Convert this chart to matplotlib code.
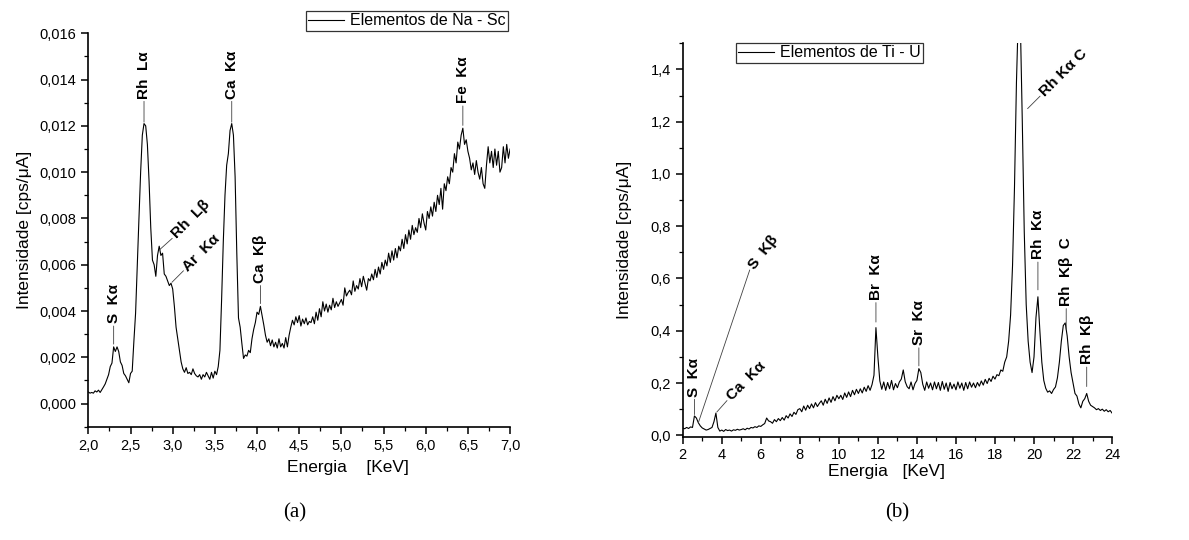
import numpy as np
import matplotlib
matplotlib.use("Agg")
import matplotlib.pyplot as plt
from matplotlib.ticker import MultipleLocator, FuncFormatter

plt.rcParams['font.family'] = ['Liberation Sans', 'DejaVu Sans']

# ---- (a) Na - Sc spectrum, energy channels every 0.02 keV, intensity in 1e-3 cps/uA
energy_a = np.round(np.arange(200, 701, 2) / 100, 2)
intensity_a_milli = [
    0.50, 0.45, 0.48, 0.45, 0.55, 0.50, 0.58, 0.48, 0.60, 0.72,   # 2.00
    0.85, 1.05, 1.25, 1.60, 1.75, 2.45, 2.25, 2.45, 2.25, 1.80,   # 2.20
    1.65, 1.30, 1.20, 1.05, 0.90, 1.30, 1.40, 2.70, 3.90, 6.00,   # 2.40
    8.00, 10.00, 11.60, 12.10, 12.00, 11.20, 9.60, 7.60, 6.20, 6.00,  # 2.60
    5.50, 6.40, 6.80, 6.40, 6.50, 5.60, 5.50, 5.30, 5.10, 5.20,   # 2.80
    4.95, 4.20, 3.30, 2.80, 2.30, 1.80, 1.50, 1.35, 1.55, 1.30,   # 3.00
    1.35, 1.25, 1.50, 1.30, 1.20, 1.15, 1.25, 1.05, 1.25, 1.15,   # 3.20
    1.35, 1.20, 1.05, 1.35, 1.10, 1.40, 1.25, 1.60, 2.30, 4.50,   # 3.40
    7.00, 9.00, 10.30, 10.80, 11.80, 12.10, 11.60, 9.80, 6.50, 3.70,  # 3.60
    3.30, 2.60, 1.95, 2.10, 2.05, 2.30, 2.20, 2.80, 3.20, 3.50,   # 3.80
    3.95, 3.85, 4.20, 3.80, 3.40, 2.95, 2.65, 2.80, 2.50, 2.75,   # 4.00
    2.45, 2.65, 2.40, 2.80, 2.45, 2.60, 2.40, 2.85, 2.45, 2.95,   # 4.20
    3.30, 3.60, 3.40, 3.75, 3.50, 3.80, 3.35, 3.65, 3.45, 3.70,   # 4.40
    3.40, 3.55, 3.50, 3.75, 3.45, 3.95, 3.60, 4.10, 3.75, 4.40,   # 4.60
    4.00, 4.30, 3.95, 4.25, 4.05, 4.55, 4.15, 4.40, 4.20, 4.35,   # 4.80
    4.50, 4.25, 5.00, 4.65, 4.80, 4.90, 4.70, 5.30, 4.85, 5.10,   # 5.00
    4.95, 5.40, 5.05, 5.50, 5.20, 4.90, 5.40, 5.30, 5.60, 5.35,   # 5.20
    5.80, 5.45, 5.90, 5.60, 6.10, 5.80, 6.20, 5.95, 6.50, 6.10,   # 5.40
    6.60, 6.20, 6.70, 6.30, 6.80, 6.60, 7.10, 6.70, 7.30, 6.90,   # 5.60
    7.50, 7.10, 7.70, 7.30, 7.60, 7.40, 8.00, 7.60, 8.20, 7.80,   # 5.80
    7.50, 8.30, 8.00, 8.50, 8.10, 8.70, 8.30, 9.00, 8.60, 9.30,   # 6.00
    8.40, 9.50, 9.20, 9.80, 9.50, 10.20, 10.00, 10.80, 10.40, 11.30,  # 6.20
    11.00, 11.60, 11.90, 11.20, 11.40, 10.90, 10.60, 10.10, 10.40, 9.90,  # 6.40
    10.50, 10.00, 9.70, 10.20, 9.50, 9.30, 10.30, 11.10, 10.40, 10.90,  # 6.60
    10.20, 11.00, 10.30, 10.90, 10.00, 10.20, 11.10, 10.40, 11.20, 10.60,  # 6.80
    11.00,                                                           # 7.00
]
intensity_a = np.array(intensity_a_milli) * 1e-3

# ---- (b) Ti - U spectrum, energy channels every 0.1 keV
energy_b = np.arange(20, 241) / 10
intensity_b = [
    0.028, 0.025, 0.030, 0.026, 0.032, 0.030, 0.074, 0.066, 0.048, 0.036,  # 2
    0.028, 0.024, 0.020, 0.022, 0.026, 0.030, 0.052, 0.085, 0.030, 0.016,  # 3
    0.020, 0.015, 0.022, 0.018, 0.020, 0.016, 0.021, 0.019, 0.023, 0.020,  # 4
    0.022, 0.025, 0.021, 0.027, 0.024, 0.030, 0.028, 0.033, 0.030, 0.036,  # 5
    0.034, 0.040, 0.045, 0.066, 0.055, 0.052, 0.046, 0.060, 0.052, 0.064,  # 6
    0.056, 0.068, 0.058, 0.075, 0.066, 0.082, 0.072, 0.088, 0.080, 0.098,  # 7
    0.102, 0.090, 0.112, 0.096, 0.115, 0.102, 0.120, 0.105, 0.125, 0.110,  # 8
    0.122, 0.132, 0.115, 0.138, 0.122, 0.143, 0.126, 0.148, 0.132, 0.153,  # 9
    0.140, 0.153, 0.137, 0.162, 0.145, 0.166, 0.148, 0.172, 0.155, 0.176,  # 10
    0.160, 0.178, 0.162, 0.184, 0.168, 0.190, 0.172, 0.194, 0.230, 0.412,  # 11
    0.300, 0.208, 0.176, 0.204, 0.172, 0.202, 0.178, 0.210, 0.174, 0.198,  # 12
    0.182, 0.204, 0.215, 0.250, 0.205, 0.186, 0.178, 0.204, 0.174, 0.198,  # 13
    0.210, 0.255, 0.240, 0.195, 0.172, 0.204, 0.180, 0.200, 0.174, 0.204,  # 14
    0.178, 0.202, 0.172, 0.206, 0.176, 0.200, 0.168, 0.202, 0.178, 0.196,  # 15
    0.174, 0.204, 0.180, 0.200, 0.172, 0.202, 0.178, 0.204, 0.184, 0.200,  # 16
    0.182, 0.202, 0.188, 0.208, 0.192, 0.214, 0.198, 0.218, 0.206, 0.226,  # 17
    0.215, 0.232, 0.228, 0.250, 0.245, 0.280, 0.300, 0.360, 0.460, 0.650,  # 18
    0.950, 1.350, 1.620, 1.580, 1.200, 0.780, 0.500, 0.360, 0.280, 0.240,  # 19
    0.300, 0.450, 0.530, 0.400, 0.280, 0.210, 0.180, 0.165, 0.170, 0.160,  # 20
    0.175, 0.185, 0.220, 0.280, 0.360, 0.420, 0.430, 0.380, 0.300, 0.240,  # 21
    0.200, 0.160, 0.150, 0.120, 0.105, 0.130, 0.140, 0.160, 0.130, 0.115,  # 22
    0.110, 0.105, 0.098, 0.102, 0.095, 0.100, 0.092, 0.098, 0.090, 0.095,  # 23
    0.085,                                                                  # 24
]

# peak labels: (text, energy)
peaks_a = [("S  Kα", 2.30), ("Rh  Lα", 2.66), ("Ca  Kα", 3.70), ("Fe  Kα", 6.44),
           ("Ca  Kβ", 4.04), ("Rh  Lβ", 2.83), ("Ar  Kα", 2.98)]
peaks_b = [("S  Kα", 2.6), ("S  Kβ", 2.8), ("Ca  Kα", 3.7), ("Br  Kα", 11.9),
           ("Sr  Kα", 14.1), ("Rh  Kα", 20.2), ("Rh  Kβ  C", 21.65), ("Rh  Kβ", 22.7)]


def comma(fmt):
    return FuncFormatter(lambda v, pos: format(v, fmt).replace('.', ','))


def tag(ax, text, xy, dx, dy, rot, gap=2):
    # leader line from the curve out to (dx, dy) points, text continuing after it
    ax.annotate('', xy=xy, xytext=(dx, dy), textcoords='offset points',
                arrowprops=dict(arrowstyle='-', lw=0.6, color='0.25',
                                shrinkA=0, shrinkB=gap))
    a = np.deg2rad(rot)
    ax.annotate(text, xy=xy, xytext=(dx + 2 * np.cos(a), dy + 2 * np.sin(a)),
                textcoords='offset points', rotation=rot, rotation_mode='anchor',
                ha='left', va='center', fontsize=11, fontweight='bold')


def style(ax):
    for s in ['top', 'right']:
        ax.spines[s].set_visible(False)
    for s in ['left', 'bottom']:
        ax.spines[s].set_linewidth(1.2)
    ax.tick_params(which='major', direction='out', length=5, width=1.1, labelsize=10.5)
    ax.tick_params(which='minor', direction='out', length=3, width=0.9)


fig = plt.figure(figsize=(11.89, 5.4), dpi=100)

# ---------------- (a)
ax1 = fig.add_axes([0.0743, 0.2098, 0.3547, 0.7285])
ax1.plot(energy_a, intensity_a, color='black', lw=0.8, label='Elementos de Na - Sc')
ax1.set_xlim(2.0, 7.0)
ax1.set_ylim(-0.001, 0.016)
ax1.xaxis.set_major_locator(MultipleLocator(0.5))
ax1.xaxis.set_minor_locator(MultipleLocator(0.25))
ax1.yaxis.set_major_locator(MultipleLocator(0.002))
ax1.yaxis.set_minor_locator(MultipleLocator(0.001))
ax1.xaxis.set_major_formatter(comma('.1f'))
ax1.yaxis.set_major_formatter(comma('.3f'))
style(ax1)
ax1.set_xlabel('Energia    [KeV]', fontsize=12.5)
ax1.set_ylabel('Intensidade [cps/μA]', fontsize=12.5)
ax1.xaxis.set_label_coords(0.615, -0.085)
ax1.yaxis.set_label_coords(-0.133, 0.5)

layout_a = {"S  Kα": (0, 15, 90, 2), "Rh  Lα": (0, 16, 90, 1), "Ca  Kα": (0, 16, 90, 1),
            "Fe  Kα": (0, 16, 90, 2), "Ca  Kβ": (0, 15, 90, 2),
            "Rh  Lβ": (10, 9, 45, 1), "Ar  Kα": (9, 9, 45, 1)}
for text, e in peaks_a:
    dx, dy, rot, gap = layout_a[text]
    tag(ax1, text, (e, np.interp(e, energy_a, intensity_a)), dx, dy, rot, gap)

ax1.legend(loc='upper right', bbox_to_anchor=(508 / 1189, 1 - 11 / 540),
           bbox_transform=fig.transFigure, fontsize=11.5, frameon=True,
           fancybox=False, edgecolor='black', borderpad=0.15, borderaxespad=0,
           handlelength=2.2, handletextpad=0.4).get_frame().set_linewidth(0.9)

# ---------------- (b)
ax2 = fig.add_axes([0.5742, 0.1915, 0.3611, 0.7283])
ax2.plot(energy_b, intensity_b, color='black', lw=0.8, label='Elementos de Ti - U')
ax2.set_xlim(2, 24)
ax2.set_ylim(-0.005, 1.5)
ax2.xaxis.set_major_locator(MultipleLocator(2))
ax2.xaxis.set_minor_locator(MultipleLocator(1))
ax2.yaxis.set_major_locator(MultipleLocator(0.2))
ax2.yaxis.set_minor_locator(MultipleLocator(0.1))
ax2.xaxis.set_major_formatter(comma('.0f'))
ax2.yaxis.set_major_formatter(FuncFormatter(
    lambda v, pos: '' if v > 1.45 else format(v, '.1f').replace('.', ',')))
style(ax2)
ax2.set_xlabel('Energia   [KeV]', fontsize=12.5)
ax2.set_ylabel('Intensidade [cps/μA]', fontsize=12.5)
ax2.xaxis.set_label_coords(0.475, -0.07)
ax2.yaxis.set_label_coords(-0.118, 0.5)

layout_b = {"S  Kα": (0, 12, 90, 1), "S  Kβ": (37, 110, 52, 0), "Ca  Kα": (8, 9, 45, 1),
            "Br  Kα": (0, 18, 90, 4), "Sr  Kα": (0, 15, 90, 2), "Rh  Kα": (0, 25, 90, 5),
            "Rh  Kβ  C": (0, 15, 90, 0), "Rh  Kβ": (0, 19, 90, 5)}
for text, e in peaks_b:
    dx, dy, rot, gap = layout_b[text]
    tag(ax2, text, (e, np.interp(e, energy_b, intensity_b)), dx, dy, rot, gap)
# Compton peak runs off the top, label sits beside its falling edge
tag(ax2, "Rh Kα C", (19.67, 1.25), 9, 9, 45, 0)

ax2.legend(loc='upper left', bbox_to_anchor=(736 / 1189, 1 - 43 / 540),
           bbox_transform=fig.transFigure, fontsize=11.5, frameon=True,
           fancybox=False, edgecolor='black', borderpad=0.15, borderaxespad=0,
           handlelength=2.2, handletextpad=0.4).get_frame().set_linewidth(0.9)

fig.text(295 / 1189, 1 - 513 / 540, '(a)', family='Liberation Serif', fontsize=15,
         ha='center', va='center')
fig.text(897 / 1189, 1 - 513 / 540, '(b)', family='Liberation Serif', fontsize=15,
         ha='center', va='center')

fig.savefig('out.png', dpi=100)
